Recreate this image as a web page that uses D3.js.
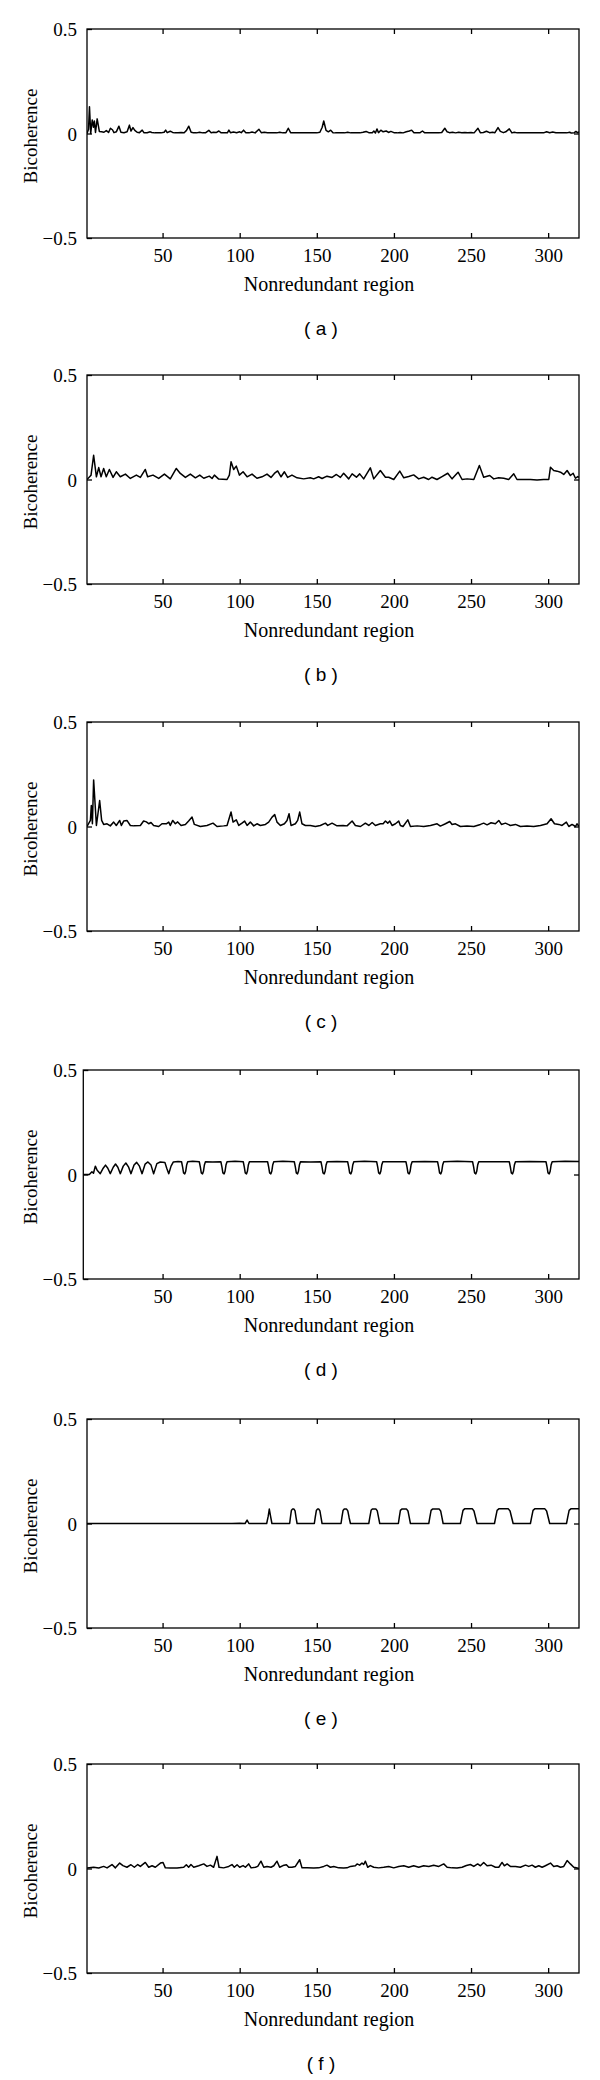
<!DOCTYPE html>
<html><head><meta charset="utf-8">
<script src="https://cdn.jsdelivr.net/npm/d3@7/dist/d3.min.js"></script>
<style>html,body{margin:0;padding:0;background:#fff;}svg{display:block;}</style>
</head><body>
<svg id="chart" width="600" height="2080"></svg>
<script>
const panelLabels = ["( a )","( b )","( c )","( d )","( e )","( f )"];
const xTicks = [50,100,150,200,250,300];
const yTicks = [-0.5,0,0.5];
const yTickLabels = ["\u22120.5","0","0.5"];
const xTitle = "Nonredundant region";
const yTitle = "Bicoherence";

const seriesA = [[1,0],[2,0.02],[2.6,0.128],[3.4,0.0],[4.4,0.065],[5.2,0.03],[5.8,0.06],[6.5,0.005],[7.6,0.07],[9,0.01],[10.5,0.008],[12,0.006],[13.5,0.014],[15,0.005],[16.2,0.025],[17.5,0.018],[18.5,0.004],[20,0.008],[21.7,0.035],[23,0.006],[25,0.004],[27,0.008],[28.5,0.04],[29.5,0.012],[30.8,0.028],[32,0.015],[33.5,0.006],[35,0.004],[36.8,0.016],[38,0.003],[40,0.004],[42,0.008],[43,0.005],[45,0.003],[47,0.004],[49,0.003],[51,0.006],[52,0.016],[53,0.004],[55,0.011],[56.5,0.005],[58,0.003],[60,0.004],[62,0.005],[64,0.004],[65.5,0.015],[67,0.035],[68.5,0.006],[70,0.004],[72,0.003],[74,0.006],[76,0.003],[78,0.004],[80,0.015],[81.5,0.004],[83,0.006],[85,0.005],[86.5,0.012],[88,0.003],[90,0.004],[92,0.003],[93,0.016],[94,0.004],[96,0.007],[98,0.004],[100,0.008],[101,0.004],[102.5,0.016],[104,0.004],[106,0.003],[108,0.007],[110,0.003],[112.5,0.02],[114,0.004],[116,0.006],[118,0.004],[120,0.003],[122,0.004],[124,0.003],[126,0.006],[128,0.003],[130,0.004],[131.5,0.025],[133,0.004],[135,0.003],[138,0.004],[141,0.003],[144,0.004],[147,0.003],[150,0.003],[152,0.006],[153.5,0.03],[154.5,0.06],[156,0.015],[157.5,0.008],[159,0.016],[160.5,0.004],[162,0.003],[165,0.004],[168,0.003],[170,0.006],[172,0.003],[175,0.004],[178,0.003],[180,0.006],[182,0.01],[184,0.003],[186,0.004],[187,0.012],[188,0.002],[189,0.022],[190,0.004],[191.5,0.016],[193,0.008],[195,0.012],[196.5,0.005],[198,0.01],[200,0.004],[202,0.003],[204,0.005],[206,0.003],[208,0.008],[210,0.012],[211.5,0.016],[213,0.004],[215,0.003],[217,0.004],[218.5,0.012],[220,0.003],[223,0.004],[226,0.003],[229,0.004],[231,0.005],[233,0.025],[234.5,0.008],[236,0.004],[238,0.006],[240,0.003],[242,0.006],[244,0.004],[246,0.005],[248,0.004],[250,0.005],[252,0.003],[254.5,0.025],[256,0.004],[258,0.005],[260,0.011],[262,0.004],[264,0.006],[265.5,0.004],[267.5,0.028],[269,0.01],[271,0.004],[272.5,0.008],[274.8,0.022],[276.5,0.003],[278,0.006],[280,0.003],[283,0.004],[286,0.003],[289,0.004],[292,0.003],[295,0.004],[297,0.003],[299,0.008],[301,0.004],[303,0.007],[305,0.004],[307,0.003],[310,0.004],[312,0.003],[314,0.006],[315,0.002],[317,0.004],[318,0.01],[319,0.004],[320,0.008]];

const seriesB = [[1,0],[3.6,0.02],[5.3,0.116],[7.1,0.013],[8.6,0.057],[10.1,0.013],[11.8,0.053],[13.5,0.013],[15.5,0.048],[17.9,0.01],[20.0,0.037],[22.6,0.013],[25.9,0.026],[29.1,0.005],[33.0,0.021],[35.6,0.01],[38.8,0.048],[40.3,0.013],[43.8,0.021],[47.5,0.005],[51.2,0.026],[55.0,0.003],[58.9,0.053],[61.5,0.029],[64.8,0.01],[68.0,0.026],[71.3,0.008],[74.1,0.021],[76.7,0.006],[80.3,0.016],[82.1,0.005],[83.6,0.021],[86.4,0.002],[91.8,0.0],[93.3,0.021],[94.4,0.085],[96.1,0.048],[97.8,0.064],[99.8,0.021],[102.2,0.037],[104.8,0.013],[108.0,0.026],[111.2,0.006],[114.5,0.013],[117.7,0.026],[120.3,0.01],[122.5,0.029],[124.6,0.041],[126.8,0.013],[129.0,0.037],[131.1,0.01],[133.9,0.021],[137.2,0.008],[141.5,0.003],[145.8,0.008],[148.0,0.003],[151.2,0.013],[153.4,0.005],[156.6,0.016],[159.9,0.01],[162.7,0.024],[165.3,0.01],[167.4,0.03],[170.7,0.003],[172.9,0.027],[175.7,0.011],[177.8,0.027],[180.4,0.003],[184.7,0.056],[186.9,0.003],[191.2,0.043],[194.5,0.011],[196.6,0.011],[199.9,0.0],[203.8,0.04],[206.4,0.008],[209.6,0.014],[212.8,0.022],[216.1,0.003],[219.3,0.011],[222.5,0.0],[224.7,0.011],[227.9,0.0],[231.2,0.014],[234.9,0.03],[237.7,0.003],[241.6,0.035],[244.2,0.0],[247.4,0.003],[251.8,0.0],[255.4,0.067],[258.2,0.011],[262.1,0.019],[264.7,0.003],[267.9,0.008],[271.2,0.006],[274.4,0.0],[277.7,0.027],[279.8,0.0],[284.1,0.0],[288.5,0.0],[292.8,-0.002],[297.1,0.0],[300.4,0.0],[301.5,0.059],[303.6,0.043],[305.8,0.04],[308.0,0.035],[310.1,0.024],[312.3,0.043],[314.4,0.019],[316.2,0.03],[317.7,0.006],[319.2,0.014],[320,0.01]];

const seriesC = [[1,0],[3.2,0.029],[3.8,0.10],[4.5,0.013],[5.3,0.223],[7.1,0.005],[8.1,0.061],[9.2,0.124],[10.5,0.029],[11.8,0.01],[14.0,0.013],[16.1,0.003],[18.3,0.021],[20.0,0.005],[22.2,0.029],[23.3,0.005],[24.8,0.026],[26.9,0.029],[29.1,0.005],[31.3,0.003],[35.6,0.005],[37.7,0.026],[39.5,0.022],[41.0,0.013],[42.5,0.019],[44.2,0.005],[47.5,0.0],[49.6,0.013],[52.4,0.013],[54.0,0.021],[55.0,0.005],[56.6,0.029],[58.3,0.013],[59.8,0.022],[62.0,0.005],[64.8,0.01],[66.9,0.026],[69.1,0.045],[70.6,0.01],[74.5,0.0],[78.8,0.005],[82.7,0.016],[85.3,0.0],[89.6,0.003],[91.8,0.005],[94.4,0.069],[95.7,0.021],[97.8,0.032],[99.4,0.005],[101.5,0.016],[103.2,0.026],[104.8,0.005],[106.9,0.021],[109.1,0.003],[111.2,0.013],[113.4,0.005],[116.7,0.01],[118.8,0.021],[121.0,0.045],[122.7,0.057],[124.2,0.021],[126.4,0.005],[129.0,0.013],[130.7,0.029],[132.0,0.061],[133.3,0.005],[136.1,0.013],[137.6,0.029],[138.9,0.069],[140.4,0.013],[142.6,0.005],[145.8,0.005],[149.1,0.0],[152.3,0.005],[155.6,0.016],[157.1,0.005],[159.9,0.016],[163.1,0.003],[167.0,0.005],[169.6,0.003],[172.9,0.026],[175.0,0.005],[178.3,0.0],[181.5,0.016],[183.7,0.005],[185.9,0.019],[188.0,0.005],[191.2,0.013],[193.0,0.013],[194.5,0.026],[196.0,0.016],[197.3,0.026],[198.8,0.005],[201.0,0.013],[203.1,0.026],[204.2,0.005],[205.9,0.0],[209.0,0.032],[210.7,0.0],[215.0,0.003],[219.3,0.0],[223.7,0.005],[228.0,0.013],[230.1,0.002],[233.4,0.013],[236.2,0.024],[237.7,0.01],[239.9,0.013],[243.1,0.0],[247.4,0.002],[251.8,0.0],[256.1,0.01],[258.2,0.016],[260.4,0.008],[263.0,0.018],[265.8,0.013],[268.0,0.029],[269.7,0.01],[272.3,0.016],[275.5,0.005],[278.8,0.01],[282.0,0.0],[286.3,0.002],[290.6,0.0],[295.0,0.005],[299.3,0.013],[301.9,0.037],[304.1,0.013],[306.9,0.01],[309.0,0.005],[311.8,0.021],[313.4,0.0],[315.5,0.01],[317.7,0.0],[318.7,0.013],[320,0.0]];

const seriesD = [[-1.4,0.0],[2.5,0.0],[4.2,0.013],[5.2,0.006],[6.4,0.04],[7.6,0.02],[9.6,0.004],[11.5,0.03],[13.0,0.045],[14.5,0.03],[16.1,0.004],[18.0,0.035],[19.5,0.05],[21.0,0.035],[22.6,0.004],[24.5,0.04],[26.2,0.055],[28.0,0.035],[29.5,0.004],[31.5,0.045],[33.2,0.058],[35.0,0.04],[36.7,0.004],[38.7,0.05],[40.5,0.06],[42.5,0.045],[44.2,0.004],[46.3,0.052],[48.5,0.06],[51.5,0.058],[52.7,0.03],[54.0,0.004],[55.5,0.04],[57,0.06],[60,0.062],
[62.3,0.061],[63.0,0.035],[63.6,0.008],[64.4,0.003],[65.0,0.015],[65.6,0.045],[66.3,0.061],[69.5,0.063],
[73.8,0.061],[74.5,0.035],[75.1,0.008],[75.9,0.003],[76.5,0.015],[77.1,0.045],[77.8,0.061],[82.5,0.06],
[87.8,0.061],[88.5,0.035],[89.1,0.008],[89.9,0.003],[90.5,0.015],[91.1,0.045],[91.8,0.061],[97,0.063],
[102.3,0.061],[103.0,0.035],[103.6,0.008],[104.4,0.003],[105.0,0.015],[105.6,0.045],[106.3,0.061],[112,0.061],
[118.1,0.061],[118.8,0.035],[119.4,0.008],[120.2,0.003],[120.8,0.015],[121.4,0.045],[122.1,0.061],[128,0.063],
[135.4,0.061],[136.1,0.035],[136.7,0.008],[137.5,0.003],[138.1,0.015],[138.7,0.045],[139.4,0.061],[146,0.06],
[152.7,0.061],[153.4,0.035],[154.0,0.008],[154.8,0.003],[155.4,0.015],[156.0,0.045],[156.7,0.061],[163,0.062],
[170.0,0.061],[170.7,0.035],[171.3,0.008],[172.1,0.003],[172.7,0.015],[173.3,0.045],[174.0,0.061],[181,0.063],
[188.8,0.061],[189.5,0.035],[190.1,0.008],[190.9,0.003],[191.5,0.015],[192.1,0.045],[192.8,0.061],[200,0.061],
[207.8,0.061],[208.5,0.035],[209.1,0.008],[209.9,0.003],[210.5,0.015],[211.1,0.045],[211.8,0.061],[220,0.062],
[228.3,0.061],[229.0,0.035],[229.6,0.008],[230.4,0.003],[231.0,0.015],[231.6,0.045],[232.3,0.061],[241,0.063],
[251.0,0.061],[251.7,0.035],[252.3,0.008],[253.1,0.003],[253.7,0.015],[254.3,0.045],[255.0,0.061],[264,0.061],
[274.8,0.061],[275.5,0.035],[276.1,0.008],[276.9,0.003],[277.5,0.015],[278.1,0.045],[278.8,0.061],[288,0.062],
[298.6,0.061],[299.3,0.035],[299.9,0.008],[300.7,0.003],[301.3,0.015],[301.9,0.045],[302.6,0.061],[311,0.063],[320,0.062]];

const seriesE = [[1,0],[95,0],[100,0.001],[103.5,0.0],[104.8,0.016],[106,0.0],[117.5,0],[118.5,0.035],[119.2,0.069],[120,0.035],[120.9,0.0],
[132.4,0],[132.9,0.03],[133.5,0.062],[134.2,0.069],[135.2,0.069],[135.9,0.06],[136.5,0.03],[137.2,0],
[148.4,0],[149.0,0.03],[149.7,0.062],[150.4,0.069],[151.3,0.069],[152.0,0.06],[152.7,0.03],[153.4,0],
[165.7,0],[166.3,0.03],[167.0,0.062],[167.8,0.069],[169.3,0.069],[170.1,0.06],[170.9,0.03],[171.8,0],
[183.7,0],[184.4,0.03],[185.2,0.063],[186.0,0.069],[188.4,0.069],[189.2,0.06],[190.0,0.03],[190.8,0],
[202.9,0],[203.5,0.03],[204.2,0.063],[205.1,0.069],[208.2,0.069],[209.1,0.06],[209.9,0.03],[210.7,0],
[222.6,0],[223.3,0.03],[224.1,0.063],[225.0,0.069],[229.4,0.069],[230.3,0.06],[231.1,0.03],[231.9,0],
[243.1,0],[243.9,0.03],[244.8,0.063],[245.8,0.07],[250.9,0.07],[251.9,0.06],[252.9,0.03],[253.9,0],
[265.2,0],[266.0,0.03],[266.9,0.063],[268.0,0.07],[274.2,0.07],[275.3,0.06],[276.3,0.03],[277.3,0],
[288.5,0],[289.3,0.03],[290.2,0.063],[291.3,0.07],[297.9,0.07],[299.0,0.06],[300.0,0.03],[301.0,0],
[311.9,0],[312.7,0.03],[313.6,0.063],[314.7,0.07],[320,0.07]];

const seriesF = [[1,0.002],[5.3,0.006],[8.6,0.002],[11.8,0.01],[14.0,0.003],[17.2,0.019],[19.4,0.003],[22.2,0.026],[24.3,0.014],[26.9,0.006],[29.5,0.018],[31.7,0.006],[33.9,0.019],[35.6,0.01],[38.8,0.029],[41.0,0.006],[43.2,0.013],[45.3,0.006],[48.6,0.026],[50.3,0.029],[51.8,0.003],[55.0,0.002],[59.4,0.002],[63.7,0.006],[65.4,0.018],[66.9,0.006],[68.4,0.019],[70.2,0.006],[73.4,0.013],[76.7,0.022],[78.8,0.01],[81.0,0.016],[83.1,0.006],[85.3,0.058],[86.6,0.006],[89.6,0.003],[92.9,0.01],[95.0,0.019],[96.5,0.006],[98.3,0.018],[100.0,0.006],[102.2,0.014],[103.7,0.006],[105.8,0.022],[107.4,0.003],[110.2,0.006],[111.7,0.01],[113.8,0.035],[115.6,0.006],[117.7,0.01],[120.3,0.006],[122.1,0.013],[124.2,0.035],[125.9,0.006],[128.1,0.014],[130.3,0.018],[131.8,0.006],[133.9,0.006],[136.1,0.01],[138.9,0.042],[140.4,0.003],[143.7,0.003],[148.0,0.002],[151.2,0.003],[154.5,0.01],[156.6,0.016],[158.8,0.006],[161.0,0.01],[164.2,0.003],[167.4,0.002],[169.6,0.003],[171.8,0.01],[175.0,0.013],[176.1,0.022],[177.8,0.016],[179.3,0.026],[180.4,0.019],[181.5,0.035],[183.0,0.006],[184.7,0.014],[186.9,0.006],[190.1,0.003],[193.4,0.006],[196.6,0.01],[199.9,0.003],[203.1,0.01],[206.4,0.013],[209.6,0.006],[212.8,0.013],[216.1,0.006],[219.3,0.013],[222.6,0.01],[225.8,0.016],[229.1,0.01],[232.3,0.022],[234.5,0.006],[237.7,0.003],[240.9,0.002],[244.2,0.006],[247.0,0.014],[249.6,0.019],[251.8,0.01],[254.3,0.022],[256.1,0.013],[258.2,0.029],[260.4,0.013],[263.0,0.016],[265.8,0.006],[268.0,0.006],[270.1,0.029],[271.6,0.013],[273.4,0.022],[275.5,0.01],[278.8,0.01],[282.0,0.006],[285.3,0.016],[287.4,0.01],[289.6,0.016],[291.7,0.006],[293.9,0.013],[296.1,0.006],[298.2,0.013],[301.5,0.026],[303.6,0.01],[305.8,0.013],[308.0,0.006],[310.1,0.01],[312.3,0.038],[314.4,0.022],[316.6,0.006],[318.8,0.002],[320,0.0]];

const allSeries = [seriesA, seriesB, seriesC, seriesD, seriesE, seriesF];
const panelTops = [29, 375, 722, 1070, 1419, 1764];
const xStart = [1, 1, 1, -1.4, 1, 1];

const svg = d3.select("#chart");
svg.append("rect").attr("width",600).attr("height",2080).attr("fill","#fff");
const H = 209;
const serif = "'Liberation Serif','Times New Roman',serif";
const sans = "'Liberation Sans',Arial,sans-serif";

allSeries.forEach((data, i) => {
  const top = panelTops[i];
  const pxPerUnit = (579 - 87) / 319;
  const left = 87 - (1 - xStart[i]) * pxPerUnit;
  const x = d3.scaleLinear().domain([xStart[i], 320]).range([left, 579]);
  const y = d3.scaleLinear().domain([-0.5, 0.5]).range([top + H, top]);
  const g = svg.append("g");

  const clipId = "clip" + i;
  svg.append("clipPath").attr("id", clipId).append("rect")
    .attr("x", left).attr("y", top).attr("width", 579 - left).attr("height", H);

  // data line
  g.append("path").datum(data)
    .attr("clip-path", `url(#${clipId})`)
    .attr("fill","none").attr("stroke","#000").attr("stroke-width",1.5)
    .attr("stroke-linejoin","round")
    .attr("d", d3.line().x(d => x(d[0])).y(d => y(d[1])));

  // axes (inward ticks)
  const bottomAxis = d3.axisBottom(x).tickValues(xTicks).tickSizeInner(-5).tickSizeOuter(0).tickPadding(12);
  const topAxis = d3.axisTop(x).tickValues(xTicks).tickSizeInner(-5).tickSizeOuter(0).tickFormat("");
  const leftAxis = d3.axisLeft(y).tickValues(yTicks).tickSizeInner(-5).tickSizeOuter(0)
    .tickPadding(15).tickFormat((d, k) => yTickLabels[yTicks.indexOf(d)]);
  const rightAxis = d3.axisRight(y).tickValues([0]).tickSizeInner(-5).tickSizeOuter(0).tickFormat("");

  const gb = g.append("g").attr("transform", `translate(0,${top + H})`).call(bottomAxis);
  const gt = g.append("g").attr("transform", `translate(0,${top})`).call(topAxis);
  const gl = g.append("g").attr("transform", `translate(${left},0)`).call(leftAxis);
  const gr = g.append("g").attr("transform", `translate(579,0)`).call(rightAxis);
  [gb, gt, gl, gr].forEach(a => {
    a.select(".domain").remove();
    a.selectAll("line").attr("stroke","#000").attr("stroke-width",1.3);
  });
  gb.selectAll("text").attr("font-family", serif).attr("font-size", 19).attr("fill","#000")
    .attr("dy", null).attr("y", 24);
  gl.selectAll("text").attr("font-family", serif).attr("font-size", 19).attr("fill","#000")
    .attr("dy", null).attr("x", 77 - left).attr("y", 6.5);

  // frame
  g.append("rect").attr("x", left).attr("y", top).attr("width", 579 - left).attr("height", H)
    .attr("fill","none").attr("stroke","#000").attr("stroke-width",1.3);

  // titles
  g.append("text").attr("x", 329).attr("y", top + H + 53)
    .attr("text-anchor","middle").attr("font-family", serif).attr("font-size", 20)
    .attr("fill","#000").text(xTitle);
  g.append("text").attr("transform", `translate(37,${top + 107}) rotate(-90)`)
    .attr("text-anchor","middle").attr("font-family", serif).attr("font-size", 19)
    .attr("fill","#000").text(yTitle);
  g.append("text").attr("x", 321).attr("y", top + H + 96.5)
    .attr("text-anchor","middle").attr("font-family", sans).attr("font-size", 19)
    .attr("fill","#000").text(panelLabels[i]);
});
</script>
</body></html>
